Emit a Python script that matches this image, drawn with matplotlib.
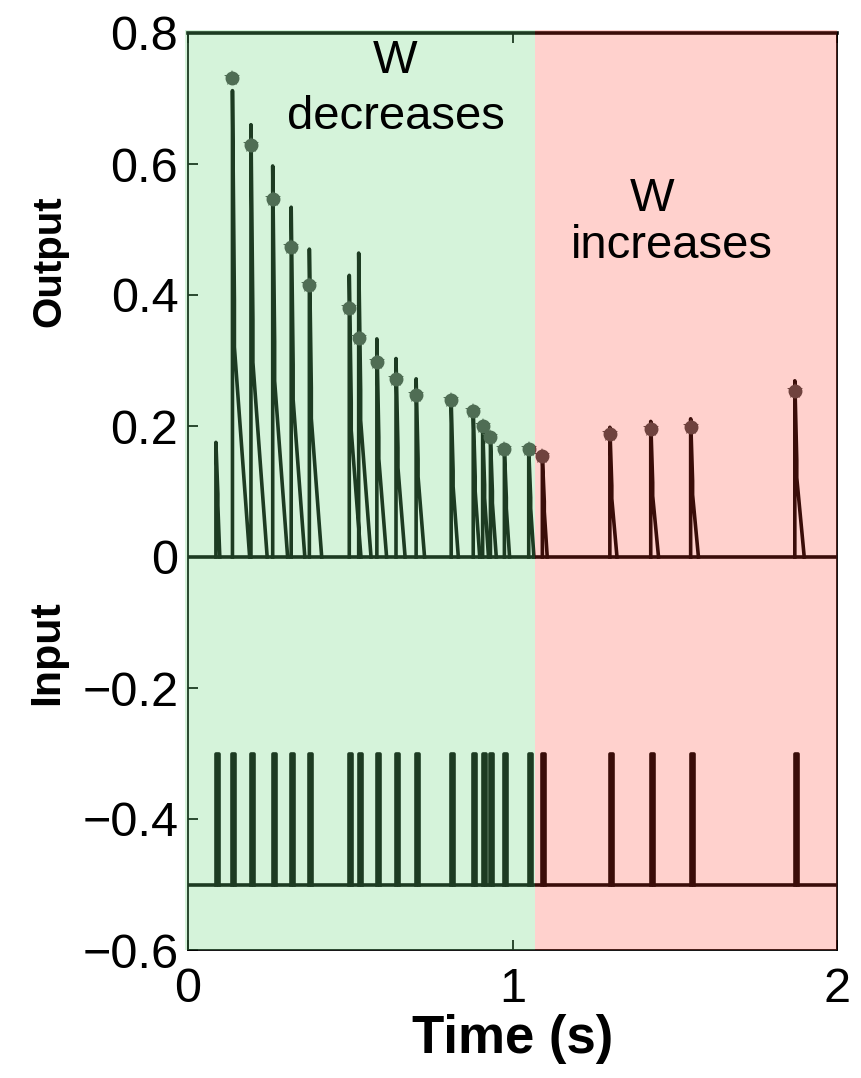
"""Output and input spike traces with W decreasing / increasing phases."""

from matplotlib import pyplot as plt
from matplotlib.patches import Rectangle
import numpy as np

plt.rcParams['font.family'] = ['Liberation Sans', 'DejaVu Sans']

# input spike times (s)
spike_times = [0.086, 0.137, 0.194, 0.261, 0.318, 0.374, 0.497, 0.526,
               0.582, 0.641, 0.703, 0.811, 0.879, 0.908, 0.932, 0.975,
               1.050, 1.092, 1.300, 1.426, 1.549, 1.870]
# output trace peak at each spike and how long it takes to fall back to 0
output_peaks = [0.175, 0.712, 0.660, 0.597, 0.534, 0.470, 0.430, 0.464,
                0.333, 0.303, 0.272, 0.239, 0.223, 0.200, 0.183, 0.165,
                0.165, 0.154, 0.198, 0.207, 0.211, 0.269]
output_decay = [0.012, 0.053, 0.050, 0.046, 0.042, 0.038, 0.036, 0.038,
                0.030, 0.028, 0.026, 0.022, 0.020, 0.018, 0.018, 0.016,
                0.016, 0.015, 0.022, 0.024, 0.024, 0.029]
# gray markers (every spike but the first)
marker_times = spike_times[1:]
marker_values = [0.732, 0.629, 0.547, 0.474, 0.415, 0.380, 0.334, 0.297,
                 0.271, 0.247, 0.239, 0.223, 0.200, 0.183, 0.165, 0.165,
                 0.154, 0.188, 0.195, 0.198, 0.254]

input_base = -0.5
input_top = -0.3
switch_time = 1.068

xticks = [0, 1, 2]
xtick_labels = ['0', '1', '2']
yticks = [0.8, 0.6, 0.4, 0.2, 0, -0.2, -0.4, -0.6]
ytick_labels = ['0.8', '0.6', '0.4', '0.2', '0', '\u22120.2', '\u22120.4', '\u22120.6']


def pulse_path(times, peaks, decays, drop=0.006, frac=0.55):
    xs, ys = [], []
    for t, p, w in zip(times, peaks, decays):
        xs += [t, t, t + drop, t + drop, t + w, np.nan]
        ys += [0, p, frac * p, 0.45 * p, 0, np.nan]
    return xs, ys


def input_path(times, base, top, width=0.009):
    xs, ys = [], []
    for t in times:
        xs += [t, t, t + width, t + width, np.nan]
        ys += [base, top, top, base, np.nan]
    return xs, ys


fig = plt.figure(figsize=(8.61, 10.78), dpi=100)
ax = fig.add_axes([188 / 861, 128 / 1078, 649 / 861, 917 / 1078])

lw = 2.6
ax.plot([0, 2], [0, 0], color='black', lw=lw, zorder=2)
ox, oy = pulse_path(spike_times, output_peaks, output_decay)
ax.plot(ox, oy, color='black', lw=lw, zorder=2)

ax.plot([0, 2], [input_base, input_base], color='black', lw=lw, zorder=2)
ix, iy = input_path(spike_times, input_base, input_top)
ax.plot(ix, iy, color='black', lw=lw, zorder=2)

ax.plot(marker_times, marker_values, 'o', color='0.27', ms=9, zorder=3)
ax.plot(marker_times, marker_values, '*', color='0.27', ms=12, mew=0, zorder=3)

# tinted overlays on top of everything
ax.add_patch(Rectangle((-0.008, -0.6), switch_time + 0.008, 1.405,
                       facecolor='#6AD57C', alpha=0.28, lw=0,
                       zorder=5, clip_on=False))
ax.add_patch(Rectangle((switch_time, -0.6), 2 - switch_time, 1.405,
                       facecolor='#FF3C28', alpha=0.23, lw=0,
                       zorder=5, clip_on=False))

ax.text(0.638, 0.757, 'W', fontsize=34, ha='center', va='center', zorder=6)
ax.text(0.640, 0.672, 'decreases', fontsize=34, ha='center', va='center',
        zorder=6)
ax.text(1.431, 0.547, 'W', fontsize=34, ha='center', va='center', zorder=6)
ax.text(1.492, 0.475, 'increases', fontsize=34, ha='center', va='center',
        zorder=6)

ax.set_xlim(0, 2)
ax.set_ylim(-0.6, 0.8)
ax.set_xticks(xticks)
ax.set_xticklabels(xtick_labels)
ax.set_yticks(yticks)
ax.set_yticklabels(ytick_labels)
ax.tick_params(axis='y', direction='in', length=7, width=1.3,
               labelsize=35, pad=7, right=False)
ax.tick_params(axis='x', direction='in', length=7, width=1.3,
               labelsize=35, pad=12, top=True)

for side in ['left', 'right', 'bottom']:
    ax.spines[side].set_linewidth(1.3)
ax.spines['top'].set_linewidth(2.6)

ax.set_xlabel('Time (s)', fontsize=38, fontweight='bold', labelpad=2)
fig.text(49 / 861, 1 - 261 / 1078, 'Output', rotation=90, fontsize=29,
         fontweight='bold', ha='center', va='center')
fig.text(47 / 861, 1 - 653 / 1078, 'Input', rotation=90, fontsize=31,
         fontweight='bold', ha='center', va='center')

fig.savefig('out.png', dpi=100)
